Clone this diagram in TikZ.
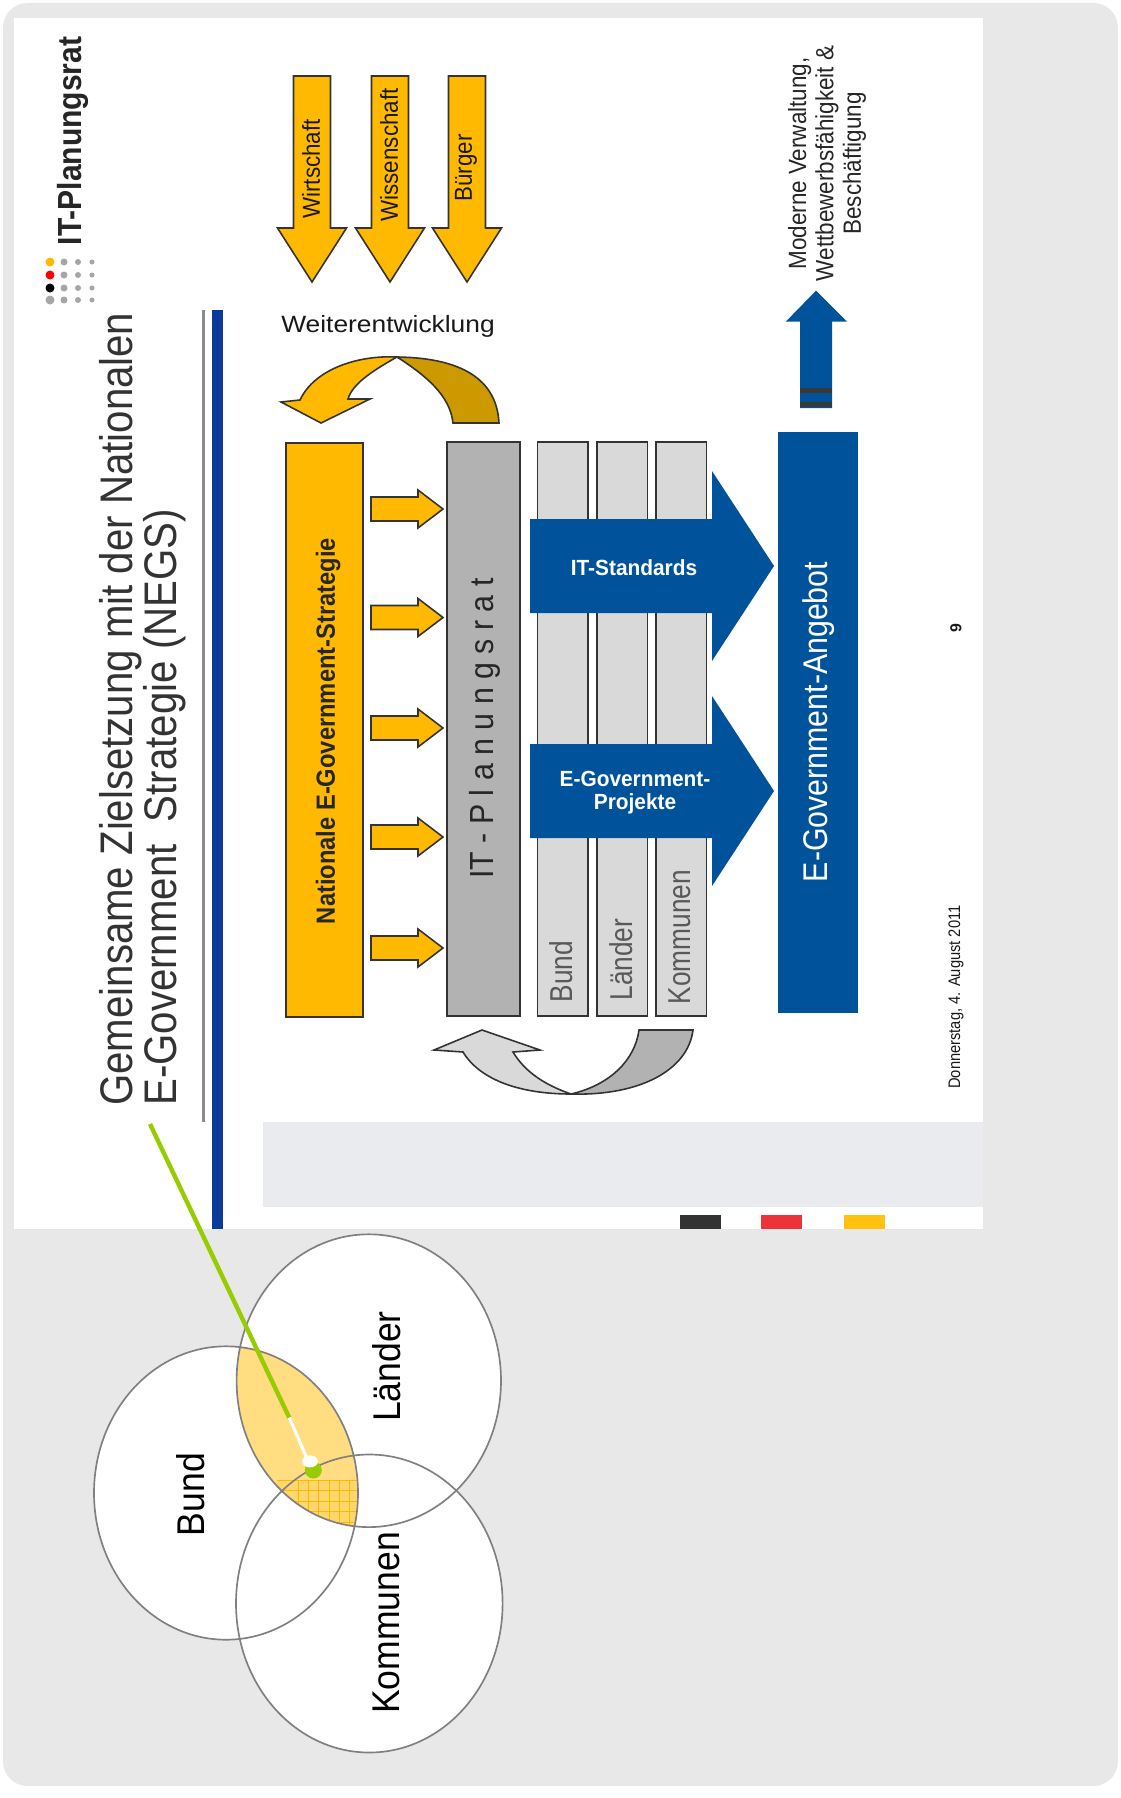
\documentclass[tikz,border=0pt]{standalone}
\usepackage{fontspec}
\setmainfont{Liberation Sans}
\definecolor{slideorange}{HTML}{FFB900}
\definecolor{slideorangedark}{HTML}{CC9900}
\definecolor{slideblue}{HTML}{00539B}
\definecolor{barblue}{HTML}{0A3A9A}
\definecolor{lensorange}{HTML}{FFDD80}
\definecolor{limegreen}{HTML}{96CC00}
\definecolor{bandgrey}{HTML}{E9EBEE}
\definecolor{chipred}{HTML}{EE3338}
\definecolor{chipyellow}{HTML}{FFC20E}
\begin{document}
\begin{tikzpicture}[x=0.02cm,y=-0.02cm]
  \tikzset{
    outline/.style={draw=black!80,line width=0.9pt},
    orangeshape/.style={outline,fill=slideorange},
    blueshape/.style={fill=slideblue},
    uplabel/.style={rotate=90,inner sep=0pt,align=center},
    setcircle/.style={draw=black!50,line width=0.95pt}
  }
  \useasboundingbox (0,0) rectangle (1120,1798);

  % Page and slide.
  \fill[black!9,rounded corners=14pt] (3,3) rectangle (1118,1786);
  \fill[white] (14,18) rectangle (983,1229);
  \fill[bandgrey] (263,1122) rectangle (983,1207);
  \fill[black!80] (680,1215) rectangle (721,1229);
  \fill[chipred] (761,1215) rectangle (802,1229);
  \fill[chipyellow] (844,1215) rectangle (885,1229);
  \fill[black!45] (202,310) rectangle (204.5,1122);
  \fill[barblue] (212,310) rectangle (223,1229);

  % Logo and title.
  \foreach \row/\dotcolor in {262/slideorange,275/red,288/black,300/black!35} {
    \fill[\dotcolor] (50,\row) circle (4.5);
    \fill[black!35] (64,\row) circle (3.5);
    \fill[black!35] (78,\row) circle (3);
    \fill[black!35] (92,\row) circle (2.5);
  }
  \node[uplabel,xscale=.9,font=\fontsize{19}{24}\selectfont\bfseries,text=black!85] (logotext) at (73,141) {IT-Planungsrat};
  \node[uplabel,anchor=west,align=left,xscale=.88,text=black!80,font=\fontsize{26}{24}\selectfont] (slidetitle) at (143,1106)
    {Gemeinsame Zielsetzung mit der Nationalen\\E-Government\ \ Strategie (NEGS)};

  % Input arrows at the top.
  \foreach \ax/\alabel/\ay/\aname in {312/Wirtschaft/169/wirtschaft,390/Wissenschaft/155/wissenschaft,467/Bürger/168/buerger} {
    \draw[orangeshape] (\ax-18.5,76) -- (\ax+18.5,76) -- (\ax+18.5,228) -- (\ax+34.5,228)
      -- (\ax,282) -- (\ax-34.5,228) -- (\ax-18.5,228) -- cycle;
    \node[uplabel,xscale=.91,font=\fontsize{14}{18}\selectfont,text=black!90] (\aname) at (\ax-1,\ay) {\alabel};
  }
  \node[inner sep=0pt,xscale=1.12,font=\fontsize{13.4}{16}\selectfont,text=black!90] (further) at (388,326.5) {Weiterentwicklung};

  % Curved orange arrow.
  \draw[outline,fill=slideorangedark] (499,423) .. controls (497,385) and (470,358) .. (397,357)
    .. controls (425,375) and (450,395) .. (453,423) -- cycle;
  \draw[orangeshape] (397,357) .. controls (360,355) and (315,368) .. (300,400) -- (281,402) -- (321,423)
    -- (370,399) -- (348,399) .. controls (352,385) and (370,372) .. (397,357) -- cycle;

  % Main bars.
  \node[orangeshape,minimum width=77.4*0.02cm,minimum height=574*0.02cm,anchor=north west,inner sep=0pt] (strategybar) at (285,442) {};
  \node[uplabel,xscale=.9,font=\fontsize{15}{19}\selectfont\bfseries,text=black!85] (strategytext) at (328,731) {Nationale E-Government-Strategie};
  \draw[outline,fill=black!30] (447,442) rectangle (520,1016);
  \node[uplabel,xscale=.91,font=\fontsize{19}{24}\selectfont,text=black!85] (councilbar) at (485,728.5) {IT - P l a n u n g s r a t};
  \foreach \x/\label/\ly/\lname in {537.5/Bund/971.5/bund,597/Länder/959.5/laender,656/Kommunen/937/kommunen} {
    \draw[outline,fill=black!15] (\x,442) rectangle (\x+50.5,1016);
    \node[uplabel,xscale=.83,font=\fontsize{18}{21}\selectfont,text=black!65] (\lname) at (\x+24,\ly) {\label};
  }
  \foreach \ay in {509,617.5,728,837,948} {
    \draw[orangeshape] (371,\ay-12) -- (418,\ay-12) -- (418,\ay-19) -- (443,\ay)
      -- (418,\ay+19) -- (418,\ay+12) -- (371,\ay+12) -- cycle;
  }

  % Curved grey arrow.
  \draw[outline,fill=black!30] (693,1030) .. controls (688,1070) and (640,1096) .. (571,1094)
    .. controls (610,1085) and (635,1060) .. (639,1030) -- cycle;
  \draw[outline,fill=black!15] (571,1094) .. controls (520,1094) and (480,1080) .. (463,1052) -- (434,1050) -- (482,1030)
    -- (540,1050) -- (513,1052) .. controls (525,1072) and (545,1085) .. (571,1094) -- cycle;

  % Blue block arrows and offer.
  \foreach \ay in {566,791} {
    \fill[blueshape] (530,\ay-47) -- (712,\ay-47) -- (712,\ay-95) -- (774,\ay)
      -- (712,\ay+95) -- (712,\ay+47) -- (530,\ay+47) -- cycle;
  }
  \node[inner sep=0pt,xscale=.95,font=\fontsize{12.5}{15}\selectfont\bfseries,text=white] (standards) at (634,567.5) {IT-Standards};
  \node[inner sep=0pt,xscale=.95,align=center,font=\fontsize{12.5}{12.8}\selectfont\bfseries,text=white] (projects) at (635,792.5) {E-Government-\\Projekte};
  \fill[blueshape] (778,432) rectangle (857.5,1012.5);
  \node[uplabel,xscale=.885,font=\fontsize{19.5}{24}\selectfont,text=white] (offer) at (819,722) {E-Government-Angebot};

  % Output arrow and its label.
  \fill[blueshape] (816,290.7) -- (847,321.7) -- (832,321.7) -- (832,408) -- (800,408) -- (800,321.7) -- (785.7,321.7) -- cycle;
  \fill[black!78] (800,388) rectangle (832,393);
  \fill[black!78] (800,402) rectangle (832,407);
  \node[uplabel,xscale=.9,font=\fontsize{14.2}{15.6}\selectfont,text=black!85] (outcome) at (827,163.5)
    {Moderne Verwaltung,\\Wettbewerbsfähigkeit \&\\Beschäftigung};

  % Footer.
  \node[uplabel,xscale=.88,font=\fontsize{9.5}{13}\selectfont,text=black!90] (footerdate) at (956,997) {Donnerstag, 4. August 2011};
  \node[uplabel,font=\fontsize{9}{13}\selectfont\bfseries,text=black!90] (pagenumber) at (956,628) {9};

  % Three overlapping sets.
  \coordinate (bundC) at (226,1493);
  \coordinate (laenderC) at (368.8,1380.7);
  \coordinate (kommunenC) at (369.3,1603.5);
  \fill[white] (bundC) ellipse [x radius=132,y radius=146.7];
  \fill[white] (laenderC) ellipse [x radius=132.2,y radius=146.4];
  \fill[white] (kommunenC) ellipse [x radius=133.3,y radius=149];
  \begin{scope}
    \clip (bundC) ellipse [x radius=132,y radius=146.7];
    \clip (laenderC) ellipse [x radius=132.2,y radius=146.4];
    \fill[lensorange] (230,1340) rectangle (365,1530);
    \fill[lensorange!85!slideorange] (277,1480) rectangle (365,1530);
    \foreach \gx in {298,308.3,...,360} {
      \draw[slideorange,line width=0.25pt] (\gx,1480) -- (\gx,1530);
    }
    \foreach \gy in {1480,1490.5,...,1530} {
      \draw[slideorange,line width=0.25pt] (277,\gy) -- (365,\gy);
    }
  \end{scope}
  \draw[setcircle] (bundC) ellipse [x radius=132,y radius=146.7];
  \draw[setcircle] (laenderC) ellipse [x radius=132.2,y radius=146.4];
  \draw[setcircle] (kommunenC) ellipse [x radius=133.3,y radius=149];
  \node[uplabel,xscale=.92,font=\fontsize{22}{26}\selectfont] (bundset) at (191,1494.5) {Bund};
  \node[uplabel,xscale=.92,font=\fontsize{22}{26}\selectfont] (laenderset) at (387,1366.6) {Länder};
  \node[uplabel,xscale=.92,font=\fontsize{22}{26}\selectfont] (kommunenset) at (386,1623) {Kommunen};

  % Pointer from the title into the sets.
  \coordinate (pointerstart) at (150,1124);
  \coordinate (pointermid) at (289.3,1417.7);
  \coordinate (pointerend) at (308,1460.7);
  \fill[limegreen] (313.3,1470) circle (8.5);
  \draw[limegreen,line width=2.5pt] (pointerstart) -- (pointermid);
  \draw[white,line width=1.8pt] (pointermid) -- (pointerend);
  \fill[white] (310,1461.4) ellipse [x radius=8,y radius=6];
\end{tikzpicture}
\end{document}
